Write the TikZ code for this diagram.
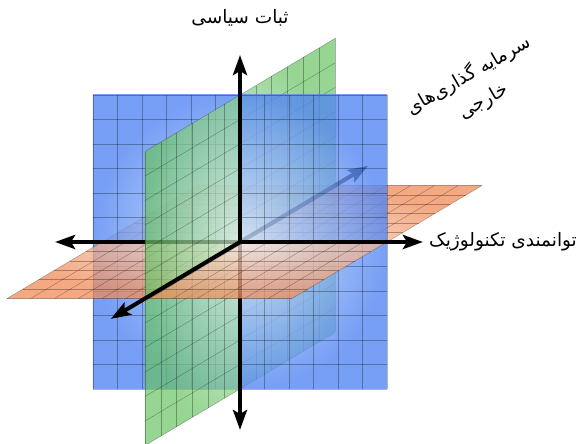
\documentclass[tikz,border=0pt]{standalone}
\usepackage{fontspec}
\usetikzlibrary{arrows.meta}
\newfontfamily\arabicfont[Script=Arabic]{DejaVu Sans}
\TeXXeTstate=1
\definecolor{planeblue}{RGB}{85,135,242}
\definecolor{planebluelt}{RGB}{205,225,252}
\definecolor{planegreen}{RGB}{105,195,100}
\definecolor{planegreenlt}{RGB}{215,240,215}
\definecolor{planeorange}{RGB}{240,140,90}
\definecolor{planeorangelt}{RGB}{250,230,220}
\tikzset{
  blueplane/.style={inner color=planebluelt, outer color=planeblue, opacity=0.8},
  greenplane/.style={inner color=planegreenlt, outer color=planegreen, opacity=0.7},
  orangeplane/.style={inner color=planeorangelt, outer color=planeorange, opacity=0.75},
  gridline/.style={draw=black, line width=0.5pt, opacity=0.3},
  axis/.style={line width=4pt, -{Stealth[length=20pt,width=14pt,inset=4pt]}},
  axlabel/.style={font=\arabicfont\fontsize{18.5}{30}\selectfont, align=center, inner sep=0pt}
}
% one plane each, shaded and gridded (12 x 12)
\newcommand\drawblue{%
  \shade[blueplane] (-147,-147,0) rectangle (147,147,0);
  \foreach \k in {0,...,12}{
    \pgfmathsetmacro\t{-147+24.5*\k}
    \draw[gridline] (\t,-147,0) -- (\t,147,0);
    \draw[gridline] (-147,\t,0) -- (147,\t,0);
  }}
\newcommand\drawgreen{%
  \shade[greenplane] (0,-147,-147) -- (0,147,-147) -- (0,147,147) -- (0,-147,147) -- cycle;
  \foreach \k in {0,...,12}{
    \pgfmathsetmacro\t{-147+24.5*\k}
    \draw[gridline] (0,\t,-147) -- (0,\t,147);
    \draw[gridline] (0,-147,\t) -- (0,147,\t);
  }}
\newcommand\draworange{%
  \shade[orangeplane] (-138,0,-147) -- (147,0,-147) -- (147,0,147) -- (-138,0,147) -- cycle;
  \foreach \k in {0,...,12}{
    \pgfmathsetmacro\t{-147+24.5*\k}
    \pgfmathsetmacro\s{-138+23.75*\k}
    \draw[gridline] (\s,0,-147) -- (\s,0,147);
    \draw[gridline] (-138,0,\t) -- (147,0,\t);
  }}
\begin{document}
\begin{tikzpicture}[x=1pt, y=1pt, z={(0.6463pt,0.3844pt)}]
  \useasboundingbox (-240,-202) rectangle (347,242);

  \coordinate (O) at (0,0,0);
  \coordinate (up) at (0,187,0);
  \coordinate (down) at (0,-188,0);
  \coordinate (left) at (-185,0,0);
  \coordinate (right) at (183,0,0);
  \coordinate (front) at (0,0,-200);
  \coordinate (back) at (0,0,198);

  % behind the blue plane
  \begin{scope}
    \clip (0,0,0) -- (0,-150,0) -- (0,-150,150) -- (0,0,150) -- cycle;
    \drawgreen
  \end{scope}
  \begin{scope}
    \clip (0,0,0) -- (-150,0,0) -- (-150,0,150) -- (0,0,150) -- cycle;
    \draworange
  \end{scope}
  \begin{scope}
    \clip (0,0,0) -- (0,150,0) -- (0,150,150) -- (0,0,150) -- cycle;
    \drawgreen
  \end{scope}
  \begin{scope}
    \clip (0,0,0) -- (150,0,0) -- (150,0,150) -- (0,0,150) -- cycle;
    \draworange
  \end{scope}
  \draw[axis] (O) -- (back);

  \drawblue

  % in front of the blue plane
  \begin{scope}
    \clip (0,0,0) -- (-150,0,0) -- (-150,0,-150) -- (0,0,-150) -- cycle;
    \draworange
  \end{scope}
  \begin{scope}
    \clip (0,0,0) -- (0,-150,0) -- (0,-150,-150) -- (0,0,-150) -- cycle;
    \drawgreen
  \end{scope}
  \draw[axis] (O) -- (down);
  \draw[axis] (O) -- (left);
  \begin{scope}
    \clip (0,0,0) -- (0,150,0) -- (0,150,-150) -- (0,0,-150) -- cycle;
    \drawgreen
  \end{scope}
  \begin{scope}
    \clip (0,0,0) -- (150,0,0) -- (150,0,-150) -- (0,0,-150) -- cycle;
    \draworange
  \end{scope}
  \draw[axis] (O) -- (up);
  \draw[axis] (O) -- (right);
  \draw[axis] (O) -- (front);

  \node[axlabel] (stability) at (0,224) {\beginR ثبات سیاسی\endR};
  \node[axlabel, anchor=west] (technology) at (189,0) {\beginR توانمندی تکنولوژیک\endR};
  \node[axlabel, rotate=30] (investment) at (236,154) {\beginR سرمایه گذاری‌های\endR\\\beginR خارجی\endR};
\end{tikzpicture}
\end{document}
